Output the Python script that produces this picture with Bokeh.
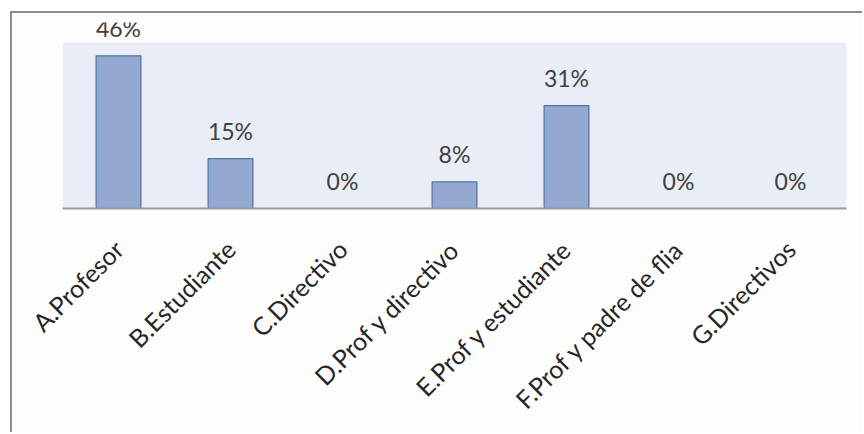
import math
from bokeh.plotting import figure
from bokeh.models import ColumnDataSource, Range1d, LabelSet, BoxAnnotation
from bokeh.core.properties import value
from bokeh.embed import file_html
from bokeh.resources import INLINE

categories = ["A.Profesor", "B.Estudiante", "C.Directivo", "D.Prof y directivo",
              "E.Prof y estudiante", "F.Prof y padre de flia", "G.Directivos"]
values = [0.46, 0.15, 0.0, 0.08, 0.31, 0.0, 0.0]
labels = ["46%", "15%", "0%", "8%", "31%", "0%", "0%"]
axis_max = 0.5

src = ColumnDataSource(dict(cat=categories, val=values, lab=labels))

p = figure(x_range=categories, y_range=Range1d(0, axis_max * 186 / 166), width=852, height=421,
           output_backend="svg", toolbar_location=None,
           min_border_left=50, min_border_right=18, min_border_top=9, min_border_bottom=226,
           background_fill_color="#fdfdfd", border_fill_color="#fdfdfd",
           styles={"border-left": "2px solid #8c8c8c", "border-top": "2px solid #8c8c8c",
                   "margin-left": "10px", "margin-top": "11px"})
p.outline_line_color = None
p.grid.visible = False
p.yaxis.visible = False

p.add_layout(BoxAnnotation(bottom=0, top=axis_max, fill_color="#e9edf5", fill_alpha=1,
                           line_color=None, level="underlay"))

p.vbar(x="cat", top="val", width=0.4, source=src, fill_color="#94a8d1",
       line_color="#4f73a8", line_width=1.2)
lbl = LabelSet(x="cat", y="val", text="lab", source=src, text_align="center",
               text_baseline="bottom", y_offset=14, text_font=value("Lato"),
               text_font_size=value("23px"), text_color="#404040")
p.add_layout(lbl)

xa = p.xaxis[0]
xa.major_label_orientation = math.pi / 4
xa.major_label_text_font = "Lato"
xa.major_label_text_font_size = "25px"
xa.major_label_text_color = "#262626"
xa.major_label_standoff = 30
xa.major_tick_line_color = None
xa.minor_tick_line_color = None
xa.axis_line_color = "#999999"
xa.axis_line_width = 2

open("out.html", "w").write(file_html(p, INLINE))
